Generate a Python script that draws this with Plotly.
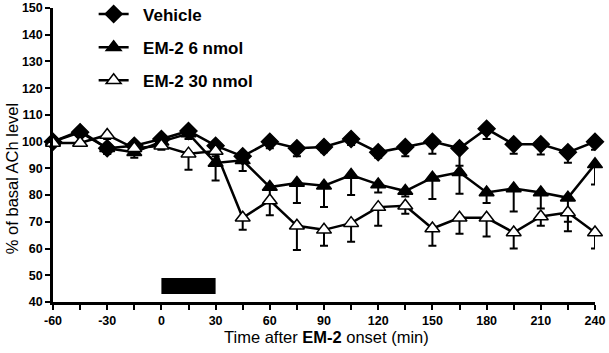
import plotly.graph_objects as go

time = [-60, -45, -30, -15, 0, 15, 30, 45, 60, 75, 90, 105, 120, 135, 150, 165, 180, 195, 210, 225, 240]

vehicle = [100, 103.5, 97.5, 98.5, 101, 104, 98.5, 94.5, 100, 97.5, 98, 101, 96, 98, 100, 97.5, 104.8, 99, 99, 96, 100]
vehicle_err = [1, 1.5, 2, 2, 1, 2, 2, 2.5, 2.5, 3, 2, 2.3, 2, 3.5, 4.5, 6.5, 3.8, 3.5, 3.8, 3.9, 3]

em6 = [100, 104, 97.5, 96, 100, 103, 92, 93, 83, 84.5, 83.5, 87.5, 84, 81.5, 86.5, 88.5, 81, 82.5, 81, 79, 91.5]
em6_err = [1, 2, 2, 2, 1, 2, 6.5, 4, 6, 7.5, 8, 7.5, 3, 2, 8, 8, 4, 8.6, 6, 9, 7.5]

em30 = [99.5, 99.5, 102.5, 97.5, 98.5, 95.5, 96.5, 71.5, 78, 68.5, 67, 69.5, 75.5, 76, 67.5, 71.5, 71.5, 66, 72, 73.5, 66]
em30_err = [1, 1, 1.5, 1.5, 1.5, 6, 2, 4.5, 5.5, 9, 6, 7, 7, 3, 6.5, 6, 7, 6, 3.5, 7, 6]

names = ["Vehicle", "EM-2 6 nmol", "EM-2 30 nmol"]
x_ticks = [-60, -30, 0, 30, 60, 90, 120, 150, 180, 210, 240]
x_ticklabels = ["-60", "-30", "0", "30", "60", "90", "120", "150", "180", "210", "240"]
y_ticks = [40, 50, 60, 70, 80, 90, 100, 110, 120, 130, 140, 150]
bar_x = [0, 30]
bar_y = [43, 49]
y_title = "% of basal ACh level"
x_title = "Time after <b>EM-2</b> onset (min)"

FONT = "Liberation Sans, Arial, sans-serif"
NB = "\u00a0\u00a0"

fig = go.Figure()

def add(y, err, name, symbol, fill, size, group):
    fig.add_trace(go.Scatter(
        x=time, y=y, name=NB + name, mode="lines+markers",
        legendgroup=group,
        line=dict(color="black", width=2.5),
        marker=dict(symbol=symbol, size=size, color=fill,
                    line=dict(color="black", width=1.5)),
        error_y=dict(type="data", symmetric=False, array=[0] * len(err),
                     arrayminus=err, color="black", thickness=2, width=4),
        cliponaxis=False,
    ))

add(vehicle, vehicle_err, names[0], "diamond", "black", 13, "a")
add(em6, em6_err, names[1], "triangle-up", "black", 13, "b")
add(em30, em30_err, names[2], "triangle-up", "white", 13, "c")

fig.add_shape(type="rect", xref="x", yref="y",
              x0=bar_x[0], x1=bar_x[1], y0=bar_y[0], y1=bar_y[1],
              fillcolor="black", line=dict(width=0))

fig.add_annotation(text=y_title, textangle=-90, xref="paper", yref="paper",
                   x=-0.0756, y=0.418, xanchor="center", yanchor="middle",
                   showarrow=False, font=dict(size=16.5, family=FONT, color="black"))
fig.add_annotation(text=x_title, xref="paper", yref="paper",
                   x=0.5055, y=-0.12, xanchor="center", yanchor="middle",
                   showarrow=False, font=dict(size=16.5, family=FONT, color="black"))

fig.update_layout(
    width=609, height=353,
    margin=dict(l=53, r=14, t=8, b=51, autoexpand=False),
    paper_bgcolor="white", plot_bgcolor="white",
    font=dict(family=FONT, color="black"),
    showlegend=True,
    legend=dict(x=0.075, y=1.039, xanchor="left", yanchor="top",
                font=dict(size=17, family=FONT, weight="bold"),
                traceorder="grouped", tracegroupgap=8,
                bgcolor="rgba(0,0,0,0)", itemwidth=30),
    xaxis=dict(
        range=[-60, 240], tickmode="array", automargin=False,
        tickvals=x_ticks, ticktext=x_ticklabels,
        ticks="outside", ticklen=5, tickwidth=2, tickcolor="black",
        minor=dict(dtick=15, tick0=-60, ticks="outside", ticklen=5, tickwidth=2, tickcolor="black"),
        showline=True, linewidth=2.5, linecolor="black",
        showgrid=False, zeroline=False,
        tickfont=dict(size=12.5, family=FONT, weight="bold"),
    ),
    yaxis=dict(
        range=[40, 150], tickmode="array", automargin=False,
        tickvals=y_ticks,
        ticks="outside", ticklen=5, tickwidth=2, tickcolor="black",
        showline=True, linewidth=2.5, linecolor="black",
        showgrid=False, zeroline=False,
        tickfont=dict(size=12.5, family=FONT, weight="bold"),
    ),
)

fig.write_html("out.html")
